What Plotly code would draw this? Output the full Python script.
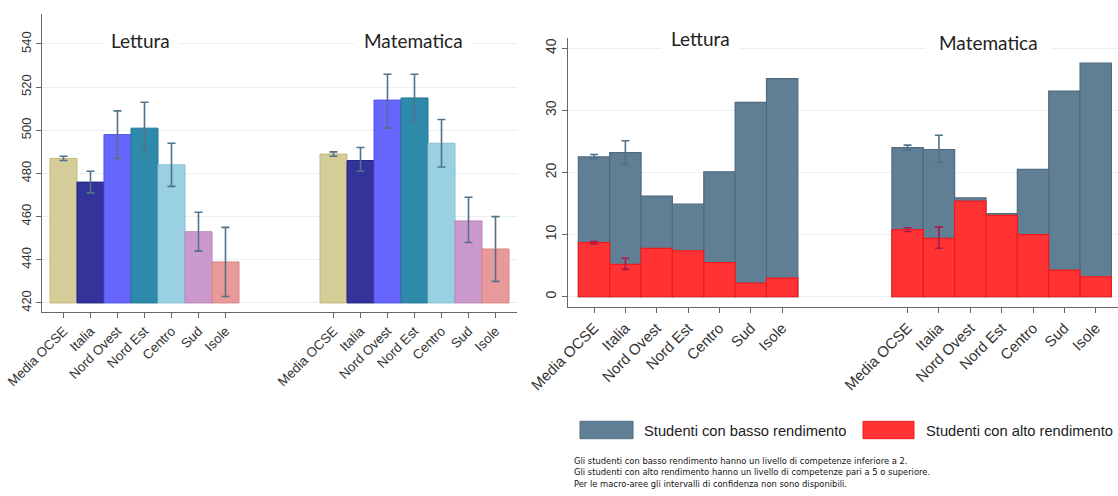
import plotly.graph_objects as go

W, H = 1118, 496

regions = ["Media OCSE", "Italia", "Nord Ovest", "Nord Est", "Centro", "Sud", "Isole"]
region_colors = ["#d4cd97", "#333399", "#6666ff", "#2e8aab", "#99d1e3", "#cc99cc", "#e8999a"]
region_edges = ["#c2ba80", "#26267f", "#5050e6", "#257896", "#86c0d4", "#b984b9", "#d88687"]

# Mean scores with 95% confidence intervals
lettura_score = [487, 476, 498, 501, 484, 453, 439]
lettura_ci_low = [486, 471, 487, 490, 474, 444, 423]
lettura_ci_high = [488, 481, 509, 513, 494, 462, 455]
matematica_score = [489, 486, 514, 515, 494, 458, 445]
matematica_ci_low = [488, 481, 501, 504, 483, 448, 430]
matematica_ci_high = [490, 492, 526, 526, 505, 469, 460]
score_base = 420

# Share of low and high performers (%); macro-areas have no interval
lettura_basso = [22.5, 23.2, 16.2, 14.9, 20.1, 31.3, 35.1]
lettura_basso_ci_low = [22.2, 21.3, None, None, None, None, None]
lettura_basso_ci_high = [22.9, 25.1, None, None, None, None, None]
lettura_alto = [8.7, 5.2, 7.8, 7.4, 5.5, 2.2, 3.0]
lettura_alto_ci_low = [8.5, 4.4, None, None, None, None, None]
lettura_alto_ci_high = [8.9, 6.2, None, None, None, None, None]
matematica_basso = [24.0, 23.7, 15.9, 13.4, 20.5, 33.1, 37.6]
matematica_basso_ci_low = [23.6, 21.6, None, None, None, None, None]
matematica_basso_ci_high = [24.4, 26.0, None, None, None, None, None]
matematica_alto = [10.8, 9.4, 15.4, 13.1, 10.0, 4.3, 3.2]
matematica_alto_ci_low = [10.5, 7.8, None, None, None, None, None]
matematica_alto_ci_high = [11.1, 11.2, None, None, None, None, None]

score_ticks = [420, 440, 460, 480, 500, 520, 540]
share_ticks = [0, 10, 20, 30, 40]

legend_labels = ["Studenti con basso rendimento", "Studenti con alto rendimento"]
footnotes = [
    "Gli studenti con basso rendimento hanno un livello di competenze inferiore a 2.",
    "Gli studenti con alto rendimento hanno un livello di competenze pari a 5 o superiore.",
    "Per le macro-aree gli intervalli di confidenza non sono disponibili.",
]

BASSO_FILL, BASSO_EDGE = "#617f94", "#4f6b80"
ALTO_FILL, ALTO_EDGE = "#ff3333", "#f01c1c"
ERR_GREY, ERR_RED = "#52728a", "#a81c4c"

pos_lettura = list(range(7))
pos_matematica = [p + 10 for p in range(7)]
all_pos = pos_lettura + pos_matematica

TICK_FONT = dict(family="Liberation Sans, Arial, sans-serif", color="#333333")
TITLE_FONT = dict(family="Lato, Open Sans, sans-serif", color="#222222")

fig = go.Figure()

# ---- left panel: mean scores ----
for pos, score, lo, hi in [
    (pos_lettura, lettura_score, lettura_ci_low, lettura_ci_high),
    (pos_matematica, matematica_score, matematica_ci_low, matematica_ci_high),
]:
    fig.add_trace(go.Bar(
        x=pos, y=[s - score_base for s in score], base=score_base, width=1,
        marker=dict(color=region_colors, line=dict(color=region_edges, width=1)),
        error_y=dict(type="data", symmetric=False,
                     array=[h - s for h, s in zip(hi, score)],
                     arrayminus=[s - l for s, l in zip(score, lo)],
                     color=ERR_GREY, thickness=1.6, width=4),
        xaxis="x", yaxis="y", hoverinfo="skip",
    ))


def err_arrays(values, lo, hi):
    ys = [v if l is not None else None for v, l in zip(values, lo)]
    plus = [(h - v) if h is not None else 0 for v, h in zip(values, hi)]
    minus = [(v - l) if l is not None else 0 for v, l in zip(values, lo)]
    return ys, plus, minus


# ---- right panel: shares of low / high performers ----
for values, pos in [(lettura_basso, pos_lettura), (matematica_basso, pos_matematica)]:
    fig.add_trace(go.Bar(x=pos, y=values, width=1,
                         marker=dict(color=BASSO_FILL, line=dict(color=BASSO_EDGE, width=1.2)),
                         xaxis="x2", yaxis="y2", hoverinfo="skip"))
for values, pos in [(lettura_alto, pos_lettura), (matematica_alto, pos_matematica)]:
    fig.add_trace(go.Bar(x=pos, y=values, width=1,
                         marker=dict(color=ALTO_FILL, line=dict(color=ALTO_EDGE, width=1.2)),
                         xaxis="x2", yaxis="y2", hoverinfo="skip"))

for values, lo, hi, pos, col in [
    (lettura_basso, lettura_basso_ci_low, lettura_basso_ci_high, pos_lettura, ERR_GREY),
    (matematica_basso, matematica_basso_ci_low, matematica_basso_ci_high, pos_matematica, ERR_GREY),
    (lettura_alto, lettura_alto_ci_low, lettura_alto_ci_high, pos_lettura, ERR_RED),
    (matematica_alto, matematica_alto_ci_low, matematica_alto_ci_high, pos_matematica, ERR_RED),
]:
    ys, plus, minus = err_arrays(values, lo, hi)
    fig.add_trace(go.Scatter(
        x=pos, y=ys, mode="markers", marker=dict(size=1, opacity=0),
        error_y=dict(type="data", symmetric=False, array=plus, arrayminus=minus,
                     color=col, thickness=1.6, width=4),
        xaxis="x2", yaxis="y2", hoverinfo="skip",
    ))


def px_x(p):
    return p / W


def px_y(p):
    return 1 - p / H


common_x = dict(
    tickmode="array", tickvals=all_pos, ticktext=regions + regions, tickangle=-45,
    showline=True, linecolor="#666666", linewidth=1.3, ticks="outside", ticklen=5,
    tickcolor="#666666", showgrid=False, zeroline=False, automargin=False,
)
common_y = dict(
    showline=True, linecolor="#666666", linewidth=1.3, ticks="outside", ticklen=5,
    tickcolor="#666666", showgrid=True, gridcolor="#e8f0f2", gridwidth=1,
    zeroline=False, tickangle=-90, tickmode="array", automargin=False,
)

fig.update_layout(
    width=W, height=H, margin=dict(l=0, r=0, t=0, b=0),
    paper_bgcolor="white", plot_bgcolor="white",
    barmode="overlay", showlegend=False,
    xaxis=dict(common_x, domain=[px_x(42), px_x(517)], range=[-0.796, 16.796], anchor="y",
               tickfont=dict(TICK_FONT, size=13.3)),
    yaxis=dict(common_y, domain=[px_y(312), px_y(14)], range=[415.8, 553.9], anchor="x",
               tickvals=score_ticks, tickfont=dict(TICK_FONT, size=13)),
    xaxis2=dict(common_x, domain=[px_x(568), 1.0], range=[-0.83, 16.71], anchor="y2",
                tickfont=dict(TICK_FONT, size=15)),
    yaxis2=dict(common_y, domain=[px_y(307.3), px_y(38.3)], range=[-1.7, 41.6], anchor="x2",
                tickvals=share_ticks, tickfont=dict(TICK_FONT, size=14)),
)

# panel titles, boxed in white so they break the top gridline
for text, cx, cy, pad in [("Lettura", 140, 40, 8), ("Matematica", 413, 40, 9),
                          ("Lettura", 700, 39, 9), ("Matematica", 988, 42, 13)]:
    fig.add_annotation(text=text, x=px_x(cx), y=px_y(cy), xref="paper", yref="paper",
                       showarrow=False, bgcolor="white", borderpad=pad,
                       font=dict(TITLE_FONT, size=19), xanchor="center", yanchor="middle")

# legend swatches and labels
for (x0, x1), fill, edge, label, tx in [
    ((580, 633), BASSO_FILL, BASSO_EDGE, legend_labels[0], 642),
    ((863, 914), ALTO_FILL, ALTO_EDGE, legend_labels[1], 924),
]:
    fig.add_shape(type="rect", xref="paper", yref="paper",
                  x0=px_x(x0), x1=px_x(x1), y0=px_y(438.7), y1=px_y(421.3),
                  fillcolor=fill, line=dict(color=edge, width=1))
    fig.add_annotation(text=label, x=px_x(tx), y=px_y(431), xref="paper", yref="paper",
                       showarrow=False, xanchor="left", yanchor="middle",
                       font=dict(TICK_FONT, size=14.7, color="#222222"))

for i, line in enumerate(footnotes):
    fig.add_annotation(text=line, x=px_x(572), y=px_y(460 + 11.7 * i), xref="paper", yref="paper",
                       showarrow=False, xanchor="left", yanchor="middle",
                       font=dict(family="DejaVu Sans Condensed, Liberation Sans, sans-serif",
                                 size=9.3, color="#111111"))

fig.write_html("out.html")
